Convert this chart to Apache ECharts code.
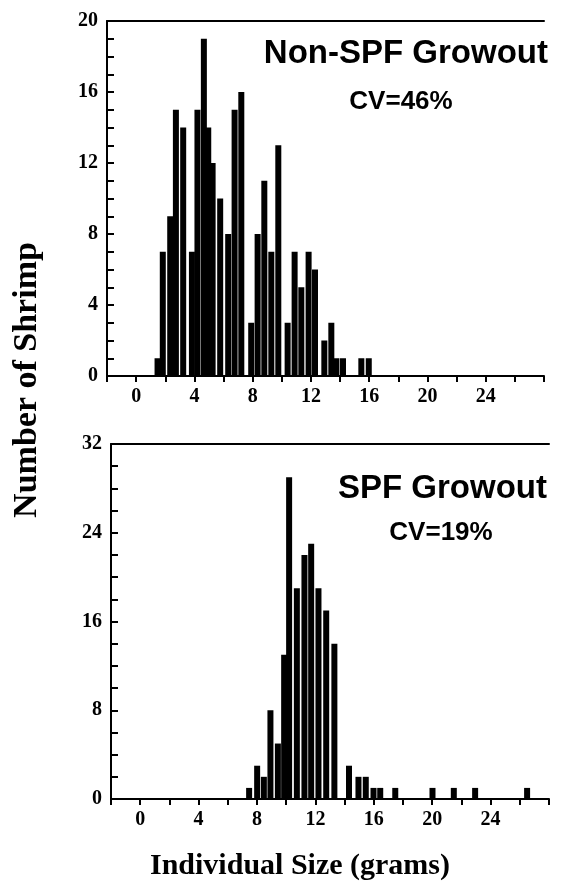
<!DOCTYPE html>
<html style="height: 100%">
<head>
    <meta charset="utf-8">
</head>
<body style="height: 100%; margin: 0; background: #fff">
    <div id="container" style="width: 562px; height: 891px"></div>

    <script type="text/javascript" src="https://cdn.jsdelivr.net/npm/echarts@6.0.0/dist/echarts.min.js"></script>
    <script type="text/javascript">
        // Non-SPF growout histogram (size in grams, number of shrimp)
        var nonSpfSize = [1.47, 1.83, 2.34, 2.73, 3.23, 3.83, 4.21, 4.65, 4.95, 5.25, 5.77, 6.32, 6.76, 7.22, 7.9,
                          8.34, 8.8, 9.28, 9.76, 10.4, 10.88, 11.34, 11.84, 12.28, 12.92, 13.4, 13.75, 14.2, 15.46, 15.97];
        var nonSpfCount = [1, 7, 9, 15, 14, 7, 15, 19, 14, 12, 10, 8, 15, 16, 3,
                           8, 11, 7, 13, 3, 7, 5, 7, 6, 2, 3, 1, 1, 1, 1];

        // SPF growout histogram
        var spfSize = [7.46, 8.01, 8.47, 8.92, 9.43, 9.86, 10.2, 10.73, 11.25, 11.71, 12.21, 12.74, 13.3,
                       14.3, 14.95, 15.45, 15.98, 16.44, 17.47, 20.02, 21.48, 22.94, 26.5];
        var spfCount = [1, 3, 2, 8, 5, 13, 29, 19, 22, 23, 19, 17, 14,
                        3, 2, 2, 1, 1, 1, 1, 1, 1, 1];

        var xLabels = [0, 4, 8, 12, 16, 20, 24];
        var topYLabels = [0, 4, 8, 12, 16, 20];
        var bottomYLabels = [0, 8, 16, 24, 32];

        var serif = 'Liberation Serif';
        var sans = 'Liberation Sans';

        function pairs(xs, ys) {
            return xs.map(function (x, i) { return [x, ys[i]]; });
        }

        function xAxisFor(grid) {
            return {
                type: 'value', gridIndex: grid, min: -2, max: 28, interval: 2,
                axisLine: { onZero: false, lineStyle: { color: '#000', width: 2 } },
                axisTick: { length: 6, lineStyle: { color: '#000', width: 2 } },
                splitLine: { show: false },
                axisLabel: {
                    margin: 11, color: '#000', fontFamily: serif, fontWeight: 'bold', fontSize: 20,
                    formatter: function (v) { return xLabels.indexOf(v) >= 0 ? String(v) : ''; }
                }
            };
        }

        function borderAxis(grid) {
            return {
                type: 'value', gridIndex: grid, position: 'top', min: -2, max: 28,
                axisLine: { onZero: false, lineStyle: { color: '#000', width: 2 } },
                axisTick: { show: false }, axisLabel: { show: false }, splitLine: { show: false }
            };
        }

        function yAxisFor(grid, max, step, labels) {
            return {
                type: 'value', gridIndex: grid, min: 0, max: max, interval: step,
                axisLine: { show: true, onZero: false, lineStyle: { color: '#000', width: 2 } },
                axisTick: { show: true, inside: true, length: 7, lineStyle: { color: '#000', width: 2 } },
                splitLine: { show: false },
                axisLabel: {
                    margin: 9, color: '#000', fontFamily: serif, fontWeight: 'bold', fontSize: 20,
                    formatter: function (v) { return labels.indexOf(v) >= 0 ? String(v) : ''; }
                }
            };
        }

        var dom = document.getElementById('container');
        var myChart = echarts.init(dom, null, { renderer: 'canvas' });

        var option = {
            animation: false,
            grid: [
                { left: 107, right: 18, top: 21, height: 355 },
                { left: 111, right: 13, top: 444, height: 355 }
            ],
            xAxis: [xAxisFor(0), borderAxis(0), xAxisFor(1), borderAxis(1)],
            yAxis: [yAxisFor(0, 20, 1, topYLabels), yAxisFor(1, 32, 2, bottomYLabels)],
            series: [
                {
                    type: 'bar', xAxisIndex: 0, yAxisIndex: 0, barWidth: 6,
                    itemStyle: { color: '#000' },
                    data: pairs(nonSpfSize, nonSpfCount)
                },
                {
                    type: 'bar', xAxisIndex: 2, yAxisIndex: 1, barWidth: 6,
                    itemStyle: { color: '#000' },
                    data: pairs(spfSize, spfCount)
                }
            ],
            graphic: [
                { type: 'text', x: 548, y: 54, style: { text: 'Non-SPF Growout', font: 'bold 33px ' + sans, fill: '#000', textAlign: 'right', textVerticalAlign: 'middle' } },
                { type: 'text', x: 401, y: 102, style: { text: 'CV=46%', font: 'bold 26px ' + sans, fill: '#000', textAlign: 'center', textVerticalAlign: 'middle' } },
                { type: 'text', x: 547, y: 489, style: { text: 'SPF Growout', font: 'bold 33px ' + sans, fill: '#000', textAlign: 'right', textVerticalAlign: 'middle' } },
                { type: 'text', x: 441, y: 533, style: { text: 'CV=19%', font: 'bold 26px ' + sans, fill: '#000', textAlign: 'center', textVerticalAlign: 'middle' } },
                { type: 'text', x: 27, y: 380, rotation: Math.PI / 2, style: { text: 'Number of Shrimp', font: 'bold 34px ' + serif, fill: '#000', textAlign: 'center', textVerticalAlign: 'middle' } },
                { type: 'text', x: 300, y: 866, style: { text: 'Individual Size (grams)', font: 'bold 30px ' + serif, fill: '#000', textAlign: 'center', textVerticalAlign: 'middle' } }
            ]
        };
        myChart.setOption(option);
    </script>
</body>
</html>
